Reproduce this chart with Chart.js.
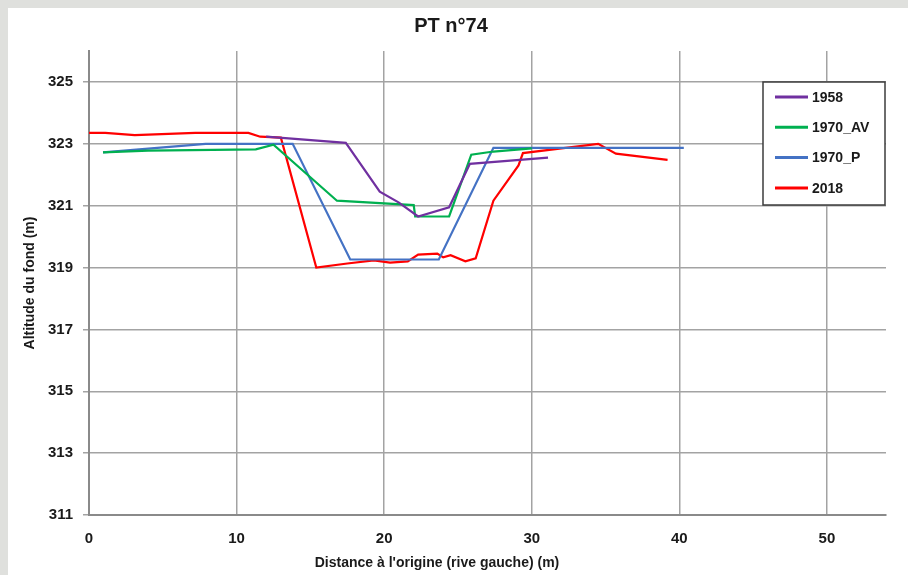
<!DOCTYPE html>
<html>
<head>
<meta charset="utf-8">
<script src="https://cdn.jsdelivr.net/npm/chart.js@4.4.0/dist/chart.umd.min.js"></script>
<style>
  html, body { margin: 0; padding: 0; background: #dfe0dd; }
  #wrap { position: absolute; left: 8px; top: 8px; width: 900px; height: 567px; background: #fff; }
</style>
</head>
<body>
<div id="wrap"><canvas id="myChart" width="900" height="567"></canvas></div>
<script>
// series labels + colours
const seriesNames = ['1958', '1970_AV', '1970_P', '2018'];
const seriesColors = ['#7030a0', '#00b050', '#4472c4', '#ff0000'];

// distance (m) / altitude (m)
const dist1958 = [12.0, 17.4, 19.7, 21.0, 22.3, 24.4, 25.8, 31.1];
const alt1958 = [323.23, 323.03, 321.45, 321.1, 320.65, 320.95, 322.35, 322.55];

const dist1970AV = [0.95, 4.0, 11.3, 12.5, 16.8, 22.0, 22.1, 24.4, 25.9, 27.4, 30.0];
const alt1970AV = [322.72, 322.78, 322.82, 322.97, 321.16, 321.02, 320.65, 320.65, 322.65, 322.75, 322.85];

const dist1970P = [0.95, 7.9, 13.8, 17.7, 23.7, 27.4, 40.3];
const alt1970P = [322.72, 323.0, 323.0, 319.26, 319.26, 322.87, 322.87];

const dist2018 = [0, 1.1, 3.1, 7.2, 10.8, 11.6, 13.0, 15.4, 17.5, 19.3, 20.4, 21.6, 22.3, 23.6, 24.0, 24.5, 25.5, 26.2, 27.4, 29.1, 29.4, 34.5, 35.7, 39.2];
const alt2018 = [323.35, 323.35, 323.28, 323.35, 323.35, 323.23, 323.2, 319.0, 319.13, 319.23, 319.16, 319.2, 319.42, 319.45, 319.33, 319.4, 319.2, 319.3, 321.16, 322.3, 322.7, 323.0, 322.68, 322.48];

const xTicks = [0, 10, 20, 30, 40, 50];
const yTicks = [311, 313, 315, 317, 319, 321, 323, 325];

const xTitle = "Distance à l'origine (rive gauche) (m)";
const yTitle = 'Altitude du fond (m)';

function pts(xs, ys) {
  return xs.map((x, i) => ({ x: x, y: ys[i] }));
}

const allDist = [dist1958, dist1970AV, dist1970P, dist2018];
const allAlt = [alt1958, alt1970AV, alt1970P, alt2018];

Chart.defaults.font.family = '"Liberation Sans", Arial, sans-serif';
Chart.defaults.color = '#1a1a1a';

// legend box inside the plot + x axis title (not centred on plot in the original)
const boxLegend = {
  id: 'boxLegend',
  afterDraw(chart) {
    const { ctx, chartArea } = chart;
    const w = 122, h = 123;
    const left = chartArea.right - w - 1, top = chartArea.top + 31;
    ctx.save();
    ctx.fillStyle = '#fff';
    ctx.fillRect(left, top, w, h);
    ctx.strokeStyle = '#3c3c3c';
    ctx.lineWidth = 1.5;
    ctx.strokeRect(left, top, w, h);
    ctx.font = 'bold 14px "Liberation Sans", Arial, sans-serif';
    ctx.textBaseline = 'middle';
    chart.data.datasets.forEach((ds, i) => {
      const y = top + 15 + i * 30.3;
      ctx.strokeStyle = ds.borderColor;
      ctx.lineWidth = 3;
      ctx.beginPath();
      ctx.moveTo(left + 12, y);
      ctx.lineTo(left + 45, y);
      ctx.stroke();
      ctx.fillStyle = '#1a1a1a';
      ctx.fillText(ds.label, left + 49, y + 1);
    });
    ctx.textAlign = 'center';
    ctx.fillText(xTitle, 429, 555);
    ctx.restore();
  }
};

const ctx = document.getElementById('myChart');

new Chart(ctx, {
  type: 'scatter',
  data: {
    datasets: seriesNames.map((name, i) => ({
      label: name,
      data: pts(allDist[i], allAlt[i]),
      borderColor: seriesColors[i],
      backgroundColor: seriesColors[i],
      borderWidth: 2.2,
      showLine: true,
      pointRadius: 0,
      tension: 0
    }))
  },
  options: {
    responsive: false,
    animation: false,
    layout: { padding: { left: 8, right: 22, top: 0, bottom: 0 } },
    plugins: {
      legend: { display: false },
      tooltip: { enabled: false },
      title: {
        display: true,
        text: 'PT n°74',
        color: '#1a1a1a',
        font: { size: 20, weight: 'bold' },
        padding: { top: 6, bottom: 13 }
      }
    },
    scales: {
      x: {
        type: 'linear',
        min: 0,
        max: 54,
        afterBuildTicks: (s) => { s.ticks = xTicks.map(v => ({ value: v })); },
        afterFit: (s) => { s.height = 60; },
        grid: { color: '#a3a3a3', lineWidth: 1.5, drawTicks: false },
        border: { color: '#8a8a8a', width: 2 },
        ticks: { font: { size: 15, weight: 'bold' }, padding: 15, maxRotation: 0 }
      },
      y: {
        type: 'linear',
        min: 311,
        max: 326,
        afterBuildTicks: (s) => { s.ticks = yTicks.map(v => ({ value: v })); },
        afterFit: (s) => { s.width = 73; },
        grid: { color: '#a3a3a3', lineWidth: 1.5, tickLength: 6 },
        border: { color: '#8a8a8a', width: 2 },
        ticks: { font: { size: 15, weight: 'bold' }, padding: 10 },
        title: {
          display: true,
          text: yTitle,
          font: { size: 14, weight: 'bold' },
          padding: { top: 6, bottom: 0 }
        }
      }
    }
  },
  plugins: [boxLegend]
});
</script>
</body>
</html>
